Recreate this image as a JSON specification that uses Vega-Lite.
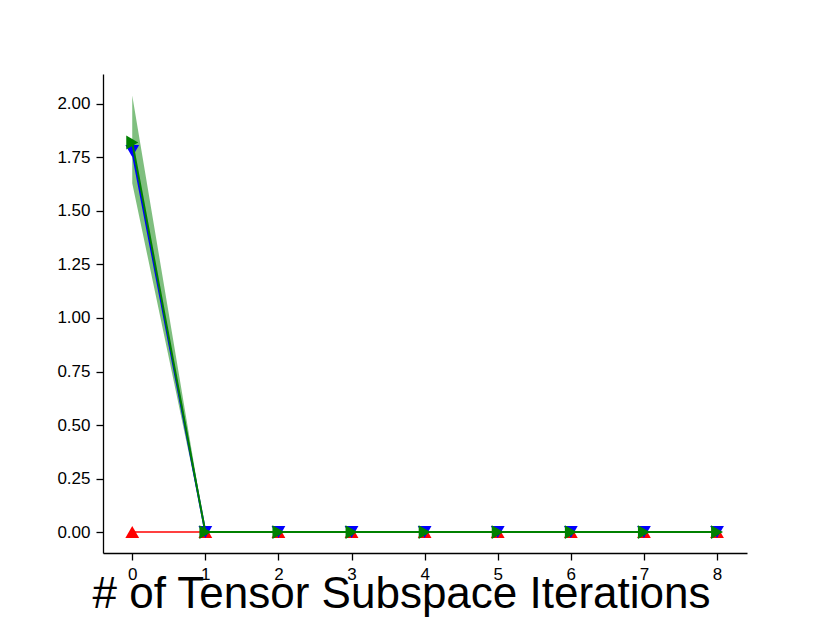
{
  "$schema": "https://vega.github.io/schema/vega-lite/v6.json",
  "width": 644,
  "height": 479,
  "autosize": {"type": "none"},
  "padding": {"left": 103, "top": 74, "right": 83, "bottom": 70},
  "background": "white",
  "config": {
    "view": {"stroke": null},
    "axis": {
      "grid": false,
      "domainColor": "black",
      "domainWidth": 1.3,
      "tickColor": "black",
      "tickWidth": 1.3,
      "tickSize": 7,
      "labelColor": "black",
      "labelFont": "Liberation Sans",
      "labelFontSize": 17,
      "labelPadding": 6,
      "titleFont": "Liberation Sans",
      "titleColor": "black"
    }
  },
  "data": {
    "values": [
      {"series": "red", "x": 0, "y": 0, "lo": 0, "hi": 0},
      {"series": "red", "x": 1, "y": 0, "lo": 0, "hi": 0},
      {"series": "red", "x": 2, "y": 0, "lo": 0, "hi": 0},
      {"series": "red", "x": 3, "y": 0, "lo": 0, "hi": 0},
      {"series": "red", "x": 4, "y": 0, "lo": 0, "hi": 0},
      {"series": "red", "x": 5, "y": 0, "lo": 0, "hi": 0},
      {"series": "red", "x": 6, "y": 0, "lo": 0, "hi": 0},
      {"series": "red", "x": 7, "y": 0, "lo": 0, "hi": 0},
      {"series": "red", "x": 8, "y": 0, "lo": 0, "hi": 0},
      {"series": "blue", "x": 0, "y": 1.78, "lo": 1.78, "hi": 1.78},
      {"series": "blue", "x": 1, "y": 0, "lo": 0, "hi": 0},
      {"series": "blue", "x": 2, "y": 0, "lo": 0, "hi": 0},
      {"series": "blue", "x": 3, "y": 0, "lo": 0, "hi": 0},
      {"series": "blue", "x": 4, "y": 0, "lo": 0, "hi": 0},
      {"series": "blue", "x": 5, "y": 0, "lo": 0, "hi": 0},
      {"series": "blue", "x": 6, "y": 0, "lo": 0, "hi": 0},
      {"series": "blue", "x": 7, "y": 0, "lo": 0, "hi": 0},
      {"series": "blue", "x": 8, "y": 0, "lo": 0, "hi": 0},
      {"series": "green", "x": 0, "y": 1.82, "lo": 1.63, "hi": 2.04},
      {"series": "green", "x": 1, "y": 0, "lo": 0, "hi": 0},
      {"series": "green", "x": 2, "y": 0, "lo": 0, "hi": 0},
      {"series": "green", "x": 3, "y": 0, "lo": 0, "hi": 0},
      {"series": "green", "x": 4, "y": 0, "lo": 0, "hi": 0},
      {"series": "green", "x": 5, "y": 0, "lo": 0, "hi": 0},
      {"series": "green", "x": 6, "y": 0, "lo": 0, "hi": 0},
      {"series": "green", "x": 7, "y": 0, "lo": 0, "hi": 0},
      {"series": "green", "x": 8, "y": 0, "lo": 0, "hi": 0}
    ]
  },
  "encoding": {
    "x": {
      "field": "x",
      "type": "quantitative",
      "scale": {"domain": [-0.4, 8.41], "nice": false, "zero": false},
      "axis": {
        "values": [0, 1, 2, 3, 4, 5, 6, 7, 8],
        "format": "d",
        "title": "# of Tensor Subspace Iterations",
        "titleFontSize": 44,
        "titleFontWeight": "normal",
        "titleBaseline": "alphabetic",
        "titleAlign": "center",
        "titleAnchor": "start",
        "titleX": 298,
        "titleY": 54
      }
    },
    "y": {
      "field": "y",
      "type": "quantitative",
      "scale": {"domain": [-0.098, 2.14], "nice": false, "zero": false},
      "axis": {
        "values": [0, 0.25, 0.5, 0.75, 1, 1.25, 1.5, 1.75, 2],
        "format": ".2f",
        "title": null
      }
    }
  },
  "layer": [
    {
      "transform": [{"filter": "datum.series === 'green'"}],
      "mark": {"type": "area", "color": "#008000", "opacity": 0.5},
      "encoding": {
        "y": {"field": "lo", "type": "quantitative"},
        "y2": {"field": "hi"}
      }
    },
    {
      "transform": [{"filter": "datum.series === 'red'"}],
      "mark": {"type": "line", "color": "#ff0000", "strokeWidth": 1.5},
      "encoding": {}
    },
    {
      "transform": [{"filter": "datum.series === 'red'"}],
      "mark": {"type": "point", "shape": "triangle-up", "filled": true, "size": 190, "color": "#ff0000", "opacity": 1},
      "encoding": {}
    },
    {
      "transform": [{"filter": "datum.series === 'blue'"}],
      "mark": {"type": "line", "color": "#0000ff", "strokeWidth": 2},
      "encoding": {}
    },
    {
      "transform": [{"filter": "datum.series === 'blue'"}],
      "mark": {"type": "point", "shape": "triangle-down", "filled": true, "size": 190, "color": "#0000ff", "opacity": 1},
      "encoding": {}
    },
    {
      "transform": [{"filter": "datum.series === 'green'"}],
      "mark": {"type": "line", "color": "#008000", "strokeWidth": 2},
      "encoding": {}
    },
    {
      "transform": [{"filter": "datum.series === 'green'"}],
      "mark": {"type": "point", "shape": "triangle-right", "filled": true, "size": 190, "color": "#008000", "opacity": 1},
      "encoding": {}
    }
  ]
}
